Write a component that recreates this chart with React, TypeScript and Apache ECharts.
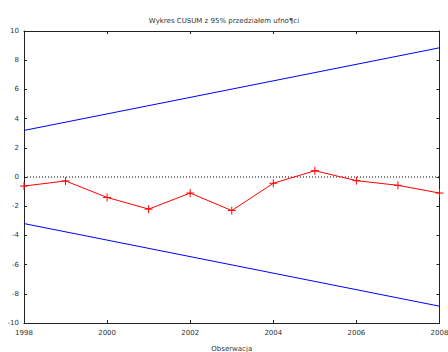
import React, { useEffect, useRef } from "react";
import * as echarts from "echarts";

const years = [1998, 1999, 2000, 2001, 2002, 2003, 2004, 2005, 2006, 2007, 2008];
const cusum = [-0.62, -0.27, -1.4, -2.2, -1.1, -2.3, -0.43, 0.43, -0.25, -0.57, -1.1];
const boundYears = [1998, 2008];
const upperBound = [3.19, 8.85];
const lowerBound = [-3.19, -8.85];
const zeroLine = [0, 0];

const titleText = "Wykres CUSUM z 95% przedziałem ufno¶ci";
const xName = "Obserwacja";

export default function App() {
  const ref = useRef<HTMLDivElement>(null);
  useEffect(() => {
    if (!ref.current) return;
    const chart = echarts.init(ref.current, null, { renderer: "svg" });
    const font = "DejaVu Sans";
    const axisLine = { show: true, onZero: false, lineStyle: { color: "#222", width: 1 } };
    const tick = { show: true, inside: true, length: 3, lineStyle: { color: "#222" } };
    chart.setOption({
      animation: false,
      backgroundColor: "#fff",
      title: {
        text: titleText,
        left: "center",
        top: 12,
        textStyle: { fontFamily: font, fontSize: 7, fontWeight: "normal", color: "#333" },
      },
      grid: { left: 24, right: 8.5, top: 31, bottom: 29, containLabel: false, outerBoundsMode: "none" },
      xAxis: [
        {
          type: "value",
          min: 1998,
          max: 2008,
          interval: 2,
          axisLine,
          axisTick: tick,
          splitLine: { show: false },
          axisLabel: {
            fontFamily: font,
            fontSize: 7,
            color: "#333",
            margin: 6,
            formatter: (v: number) => String(v),
          },
          name: xName,
          nameLocation: "middle",
          nameGap: 22,
          nameTextStyle: { fontFamily: font, fontSize: 7, lineHeight: 8, color: "#333" },
        },
        {
          type: "value",
          position: "top",
          min: 1998,
          max: 2008,
          interval: 2,
          axisLine,
          axisTick: tick,
          splitLine: { show: false },
          axisLabel: { show: false },
        },
      ],
      yAxis: [
        {
          type: "value",
          min: -10,
          max: 10,
          interval: 2,
          axisLine,
          axisTick: tick,
          splitLine: { show: false },
          axisLabel: { fontFamily: font, fontSize: 7, color: "#333", margin: 5 },
        },
        {
          type: "value",
          position: "right",
          min: -10,
          max: 10,
          interval: 2,
          axisLine,
          axisTick: tick,
          splitLine: { show: false },
          axisLabel: { show: false },
        },
      ],
      series: [
        {
          type: "line",
          data: boundYears.map((x, i) => [x, zeroLine[i]]),
          showSymbol: false,
          lineStyle: { color: "#000", width: 1, type: [1, 2] },
          silent: true,
        },
        {
          type: "line",
          data: boundYears.map((x, i) => [x, upperBound[i]]),
          showSymbol: false,
          lineStyle: { color: "#0000ff", width: 1 },
        },
        {
          type: "line",
          data: boundYears.map((x, i) => [x, lowerBound[i]]),
          showSymbol: false,
          lineStyle: { color: "#0000ff", width: 1 },
        },
        {
          type: "line",
          data: years.map((x, i) => [x, cusum[i]]),
          symbol: "path://M0,5L10,5M5,0L5,10",
          symbolSize: 8,
          showSymbol: true,
          lineStyle: { color: "#ff0000", width: 1 },
          itemStyle: { color: "#ff0000", borderColor: "#ff0000", borderWidth: 1 },
        },
      ],
    });
    return () => chart.dispose();
  }, []);
  return <div ref={ref} style={{ width: 448, height: 352, position: "absolute", left: 0, top: 0 }} />;
}
